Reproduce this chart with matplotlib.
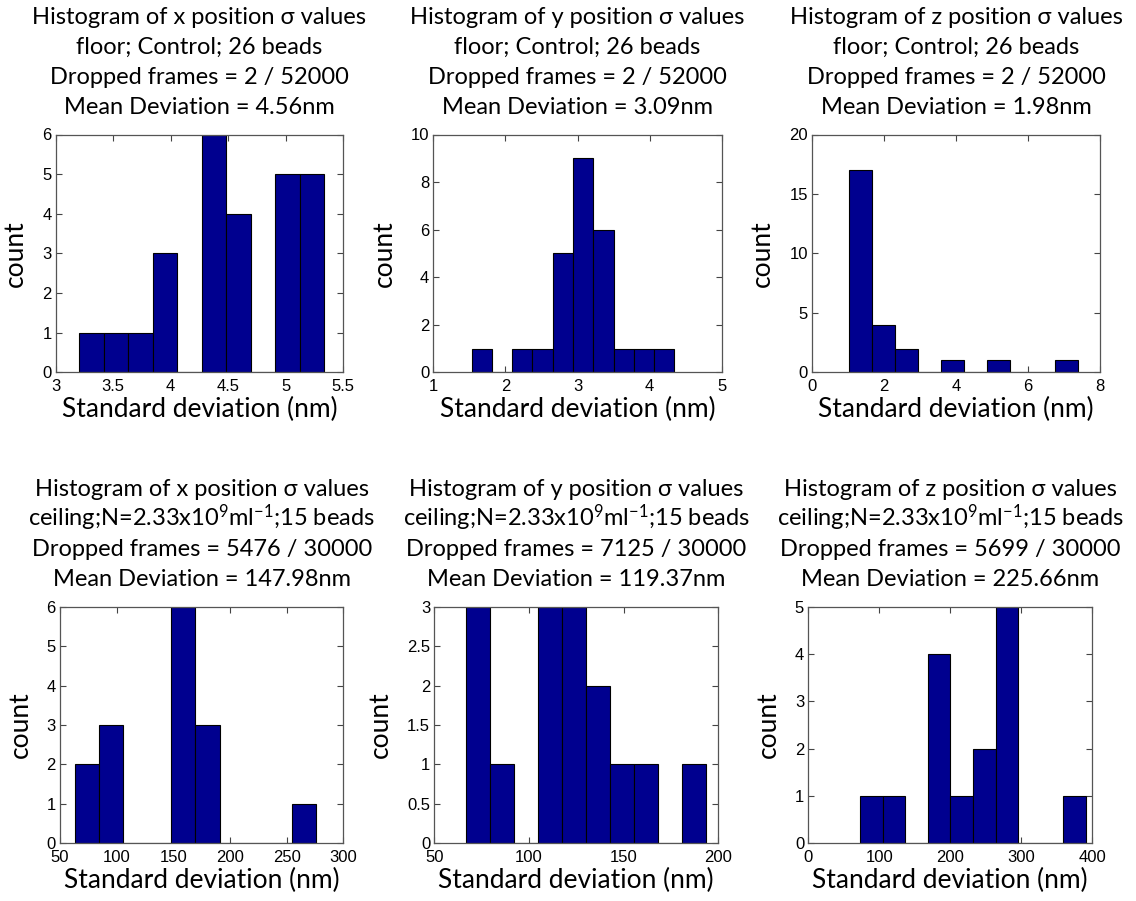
import numpy as np
import matplotlib
matplotlib.use("Agg")
import matplotlib.pyplot as plt

plt.rcParams['mathtext.fontset'] = 'custom'
plt.rcParams['mathtext.rm'] = 'Lato'
plt.rcParams['mathtext.it'] = 'Lato:italic'
plt.rcParams['mathtext.default'] = 'rm'

# Histogram data: bin range (first edge, last edge) and counts for 10 bins
x_floor_range = (3.205, 5.335)
x_floor_counts = [1, 1, 1, 3, 0, 6, 4, 0, 5, 5]
y_floor_range = (1.532, 4.343)
y_floor_counts = [1, 0, 1, 1, 5, 9, 6, 1, 1, 1]
z_floor_range = (1.028, 7.40)
z_floor_counts = [17, 4, 2, 0, 1, 0, 1, 0, 0, 1]

x_ceil_range = (63.2, 275.9)
x_ceil_counts = [2, 3, 0, 0, 6, 3, 0, 0, 0, 1]
y_ceil_range = (66.7, 193.3)
y_ceil_counts = [3, 1, 0, 3, 3, 2, 1, 1, 0, 1]
z_ceil_range = (72.8, 391.1)
z_ceil_counts = [1, 1, 0, 4, 1, 2, 5, 0, 0, 1]

axes_labels = ["x", "y", "z"]
floor_condition = "floor; Control; 26 beads"
ceil_condition = "ceiling;N=2.33x10$^{9}$ml$^{\\mathrm{-1}}$;15 beads"
floor_dropped = ["2 / 52000", "2 / 52000", "2 / 52000"]
ceil_dropped = ["5476 / 30000", "7125 / 30000", "5699 / 30000"]
floor_means = ["4.56", "3.09", "1.98"]
ceil_means = ["147.98", "119.37", "225.66"]

floor_xlims = [(3, 5.5), (1, 5), (0, 8)]
floor_xticks = [[3, 3.5, 4, 4.5, 5, 5.5], [1, 2, 3, 4, 5], [0, 2, 4, 6, 8]]
floor_ylims = [(0, 6), (0, 10), (0, 20)]
floor_yticks = [[0, 1, 2, 3, 4, 5, 6], [0, 2, 4, 6, 8, 10], [0, 5, 10, 15, 20]]
ceil_xlims = [(50, 300), (50, 200), (0, 400)]
ceil_xticks = [[50, 100, 150, 200, 250, 300], [50, 100, 150, 200], [0, 100, 200, 300, 400]]
ceil_ylims = [(0, 6), (0, 3), (0, 5)]
ceil_yticks = [[0, 1, 2, 3, 4, 5, 6], [0, 0.5, 1, 1.5, 2, 2.5, 3], [0, 1, 2, 3, 4, 5]]

W, H = 1136, 901
fig = plt.figure(figsize=(W / 100, H / 100), dpi=100)

# axes boxes in pixels: left, right, top, bottom
floor_boxes = [(55.7, 343.3, 134.5, 372.3), (433.3, 721.7, 134.5, 372.3), (812, 1100, 134.5, 372.3)]
ceil_boxes = [(60, 343.3, 607, 843), (434.3, 718.3, 607, 843), (808.3, 1092.3, 607, 843)]

bar_color = "#00008F"
title_size = 17
label_size = 19
text_family = "Lato"
tick_font = "Liberation Sans"
PX = 0.72  # points per pixel at 100 dpi


def tick_fmt(v):
    return "%g" % v


def draw_panel(box, rng, counts, xlim, xticks, ylim, yticks, title_lines):
    l, r, t, b = box
    ax = fig.add_axes([l / W, 1 - b / H, (r - l) / W, (b - t) / H])
    edges = np.linspace(rng[0], rng[1], len(counts) + 1)
    widths = np.diff(edges)
    ax.bar(edges[:-1], counts, width=widths, align="edge", color=bar_color,
           edgecolor="black", linewidth=0.8, zorder=2)
    ax.set_xlim(*xlim)
    ax.set_ylim(*ylim)
    ax.set_xticks(xticks)
    ax.set_yticks(yticks)
    ax.set_xticklabels([tick_fmt(v) for v in xticks], family=tick_font, fontsize=12)
    ax.set_yticklabels([tick_fmt(v) for v in yticks], family=tick_font, fontsize=12)
    ax.tick_params(direction="in", length=4, width=0.8, top=True, right=True,
                   color="#444444")
    ax.tick_params(axis="x", pad=5)
    ax.tick_params(axis="y", pad=3)
    for s in ax.spines.values():
        s.set_color("#555555")
        s.set_linewidth(0.9)
    ax.set_xlabel("Standard deviation (nm)", family=text_family, fontsize=label_size,
                  labelpad=2)
    ax.set_ylabel("count", family=text_family, fontsize=label_size, labelpad=10)
    # four title lines, stacked upward from the top of the axes (baselines)
    n = len(title_lines)
    for k, line in enumerate(title_lines):
        offset_px = 21 + 30 * (n - 1 - k)
        ax.annotate(line, xy=(0.5, 1.0), xycoords="axes fraction",
                    xytext=(0, offset_px * PX), textcoords="offset points",
                    ha="center", va="baseline", family=text_family,
                    fontsize=title_size)
    return ax


for i in range(3):
    lines = [
        "Histogram of %s position σ values" % axes_labels[i],
        floor_condition,
        "Dropped frames = %s" % floor_dropped[i],
        "Mean Deviation = %snm" % floor_means[i],
    ]
    draw_panel(floor_boxes[i], [x_floor_range, y_floor_range, z_floor_range][i],
               [x_floor_counts, y_floor_counts, z_floor_counts][i],
               floor_xlims[i], floor_xticks[i], floor_ylims[i], floor_yticks[i], lines)

for i in range(3):
    lines = [
        "Histogram of %s position σ values" % axes_labels[i],
        ceil_condition,
        "Dropped frames = %s" % ceil_dropped[i],
        "Mean Deviation = %snm" % ceil_means[i],
    ]
    draw_panel(ceil_boxes[i], [x_ceil_range, y_ceil_range, z_ceil_range][i],
               [x_ceil_counts, y_ceil_counts, z_ceil_counts][i],
               ceil_xlims[i], ceil_xticks[i], ceil_ylims[i], ceil_yticks[i], lines)

fig.savefig("out.png", dpi=100)
